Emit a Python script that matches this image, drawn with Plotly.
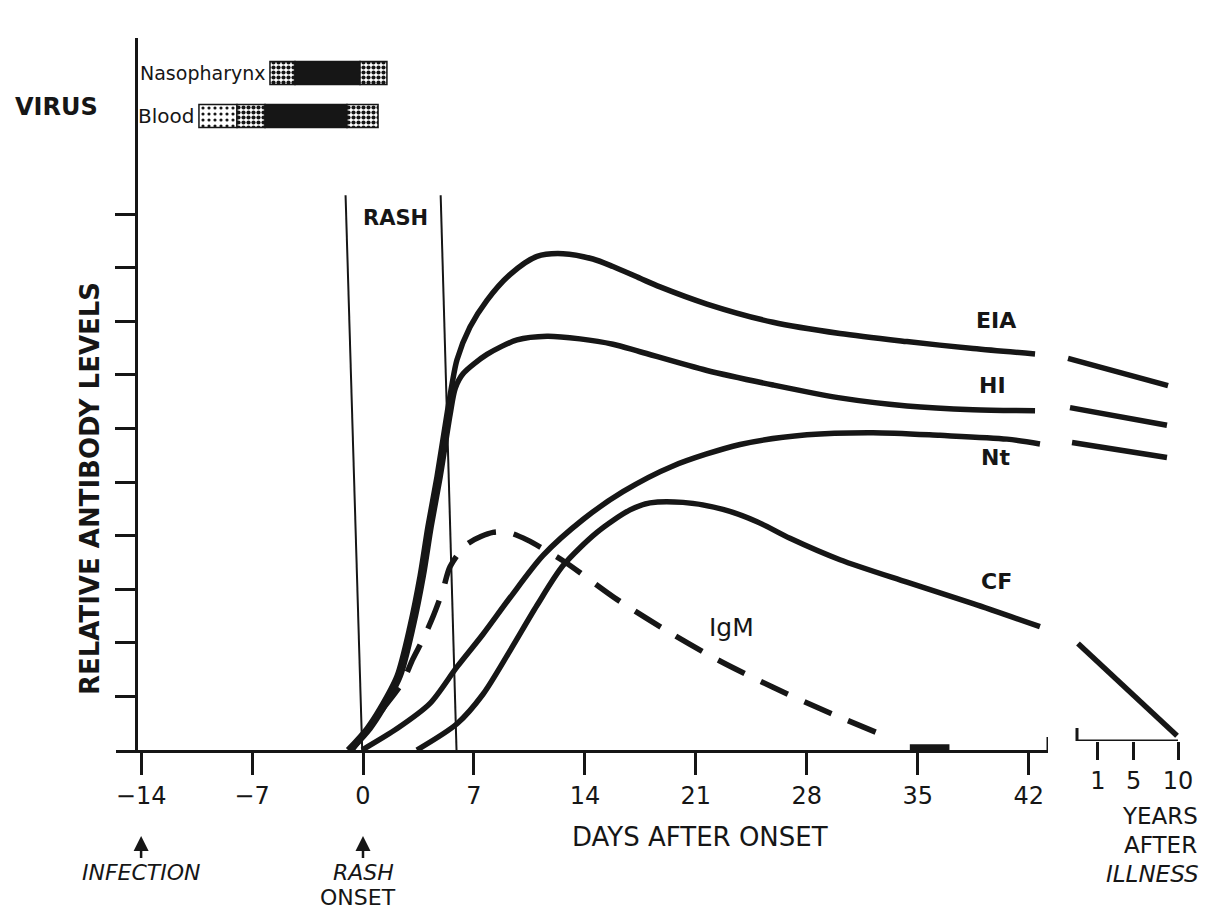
import plotly.graph_objects as go

# ---------------- data ----------------
# x: days after rash onset, y: relative antibody level
day_ticks = [-14, -7, 0, 7, 14, 21, 28, 35, 42]
day_tick_text = ["\u221214", "\u22127", "0", "7", "14", "21", "28", "35", "42"]
year_ticks = [1, 5, 10]
year_tick_text = ["1", "5", "10"]
level_ticks = [1, 2, 3, 4, 5, 6, 7, 8, 9, 10]

eia_days = [-0.95, 0.25, 1.07, 2.15, 2.97, 3.60, 4.10, 4.67, 5.30, 5.62, 5.93, 6.75, 7.82,
            9.27, 10.98, 12.62, 14.51, 15.77, 17.48, 18.74, 21.70, 25.87, 30.09, 34.32, 38.49, 42.40]
eia_levels = [0.0, 0.40, 0.77, 1.38, 2.31, 3.24, 4.17, 5.10, 6.27, 6.83, 7.28, 7.89, 8.39,
              8.87, 9.21, 9.26, 9.16, 9.02, 8.80, 8.64, 8.32, 7.98, 7.77, 7.62, 7.49, 7.39]

hi_days = [-0.75, 0.45, 1.27, 2.35, 3.17, 3.80, 4.30, 4.87, 5.50, 5.82, 6.31, 7.82, 9.72,
           11.61, 13.69, 15.77, 17.48, 21.70, 25.87, 30.09, 34.32, 38.49, 42.40]
hi_levels = [0.0, 0.40, 0.77, 1.38, 2.31, 3.24, 4.17, 5.10, 6.27, 6.75, 7.02, 7.38, 7.65,
             7.72, 7.67, 7.57, 7.43, 7.08, 6.81, 6.57, 6.42, 6.35, 6.33]

nt_days = [-0.06, 2.15, 4.23, 5.93, 7.57, 9.27, 11.36, 13.88, 16.40, 19.56, 23.79,
           28.01, 32.18, 36.40, 40.63, 42.71]
nt_levels = [0.0, 0.40, 0.87, 1.55, 2.16, 2.84, 3.63, 4.30, 4.82, 5.30, 5.70,
             5.88, 5.92, 5.87, 5.80, 5.71]

cf_days = [3.40, 5.93, 7.57, 9.27, 10.98, 12.62, 14.76, 16.85, 18.11, 20.19, 22.71, 24.86,
           26.94, 30.09, 34.32, 38.49, 42.71]
cf_levels = [0.0, 0.49, 1.04, 1.85, 2.70, 3.44, 4.06, 4.48, 4.61, 4.62, 4.49, 4.26,
             3.95, 3.55, 3.13, 2.73, 2.30]

igm_days = [-0.70, 1.26, 2.46, 3.15, 3.79, 4.42, 5.05, 5.49, 6.56, 8.20, 9.27, 10.35,
            12.62, 16.02, 19.37, 22.52, 25.87, 29.46, 33.12]
igm_levels = [0.0, 0.77, 1.25, 1.70, 2.07, 2.49, 2.99, 3.42, 3.84, 4.06, 4.05, 3.92,
              3.53, 2.81, 2.19, 1.66, 1.17, 0.69, 0.24]
igm_tail_days = [34.5, 37.0]
igm_tail_levels = [0.05, 0.05]

# long-term values, x in years after illness
eia_years, eia_year_levels = [-2.37, 8.88], [7.14, 6.63]
hi_years, hi_year_levels = [-2.15, 8.76], [6.22, 5.89]
nt_years, nt_year_levels = [-1.92, 8.76], [5.57, 5.29]
cf_years, cf_year_levels = [-1.25, 9.89], [1.82, 0.10]

# rash period boundaries (as drawn, slightly slanted in the scan)
rash_top_days = [-1.10, 4.90]
rash_bottom_days = [-0.05, 5.90]
rash_top_level = 10.35

# virus detection bars (days)
virus_sites = ["Blood", "Nasopharynx"]
naso_bounds = [-5.87, -4.29, -0.19, 1.51]
naso_fills = ["dense", "solid", "dense"]
blood_bounds = [-10.35, -7.95, -6.18, -1.01, 0.95]
blood_fills = ["light", "dense", "solid", "dense"]

# ---------------- geometry / style (screen pixels) ----------------
PAGE_MARGIN = 8                      # default body margin of the html page
W, H = 1212 - PAGE_MARGIN, 912 - PAGE_MARGIN
AXIS_Y, YEAR_AXIS_Y, Y_TOP, PX_PER_LEVEL = 750, 741, 38, 53.6
DAY0_PX, PX_PER_DAY = 363, 15.85
X_LEFT, X_RIGHT = 116, 1048
YAXIS_X = 136
YR_LEFT, YR_RIGHT, YEAR0_PX, PX_PER_YEAR = 1062, 1190, 1089.1, 8.89
YEAR_AXIS_START_PX = 1077
V_BOTTOM, V_TOP, BLOOD_PX, NASO_PX = 140, 45, 116, 73
INK = "#161616"
FONT = "DejaVu Sans, Verdana, Arial, sans-serif"


def px_x(px):
    return (px - PAGE_MARGIN) / W


def px_y(py):
    return 1 - (py - PAGE_MARGIN) / H


def day_of(px):
    return (px - DAY0_PX) / PX_PER_DAY


def year_of(px):
    return (px - YEAR0_PX) / PX_PER_YEAR


fig = go.Figure()

curve = dict(color=INK, width=5.5, shape="spline", smoothing=0.8)

# rash lines
for d0, d1 in zip(rash_top_days, rash_bottom_days):
    fig.add_trace(go.Scatter(x=[d0, d1], y=[rash_top_level, 0], mode="lines",
                             line=dict(color=INK, width=2), hoverinfo="skip"))

for xs, ys in [(eia_days, eia_levels), (hi_days, hi_levels), (nt_days, nt_levels), (cf_days, cf_levels)]:
    fig.add_trace(go.Scatter(x=xs, y=ys, mode="lines", line=curve))

fig.add_trace(go.Scatter(x=igm_days, y=igm_levels, mode="lines",
                         line=dict(color=INK, width=5.5, shape="spline", smoothing=0.8, dash="30px,18px")))
fig.add_trace(go.Scatter(x=igm_tail_days, y=igm_tail_levels, mode="lines",
                         line=dict(color=INK, width=6)))

for xs, ys in [(eia_years, eia_year_levels), (hi_years, hi_year_levels),
               (nt_years, nt_year_levels), (cf_years, cf_year_levels)]:
    fig.add_trace(go.Scatter(x=xs, y=ys, mode="lines", xaxis="x2", yaxis="y3",
                             line=dict(color=INK, width=5.5)))

# virus bars
fill_style = {
    "solid": dict(color=INK),
    "dense": dict(color="white", pattern=dict(shape=".", fgcolor=INK, bgcolor="white", size=5, solidity=0.55)),
    "light": dict(color="white", pattern=dict(shape=".", fgcolor=INK, bgcolor="white", size=6, solidity=0.22)),
}
for site, bounds, fills in [("Nasopharynx", naso_bounds, naso_fills), ("Blood", blood_bounds, blood_fills)]:
    for i, f in enumerate(fills):
        st = fill_style[f]
        m = dict(color=st["color"], line=dict(color=INK, width=1.5))
        if "pattern" in st:
            m["pattern"] = st["pattern"]
        fig.add_trace(go.Bar(y=[site], x=[bounds[i + 1] - bounds[i]], base=[bounds[i]],
                             orientation="h", width=0.54, marker=m, xaxis="x", yaxis="y2"))

annotations = []
for site, bounds, size in [("Nasopharynx", naso_bounds, 19), ("Blood", blood_bounds, 20)]:
    annotations.append(dict(x=bounds[0], y=virus_sites.index(site), xref="x", yref="y2",
                            text=site, showarrow=False, xanchor="right", yanchor="middle", xshift=-3,
                            font=dict(family=FONT, size=size, color=INK)))


def note(px, py, text, size, bold=False, **kw):
    t = f"<b>{text}</b>" if bold else text
    d = dict(x=px_x(px), y=px_y(py), xref="paper", yref="paper", text=t, showarrow=False,
             xanchor="center", yanchor="middle",
             font=dict(family=FONT, size=size, color=INK))
    d.update(kw)
    return d


annotations += [
    note(56, 107, "VIRUS", 24, bold=True),
    note(395, 218, "RASH", 21, bold=True),
    note(90, 489, "RELATIVE ANTIBODY LEVELS", 26, bold=True, textangle=-90),
    note(996, 320, "EIA", 22, bold=True),
    note(992, 385, "HI", 22, bold=True),
    note(995, 458, "Nt", 22, bold=True),
    note(996, 581, "CF", 22, bold=True),
    note(731, 627, "IgM", 25),
    note(700, 837, "DAYS AFTER ONSET", 26),
    note(1160, 816, "YEARS", 23),
    note(1160, 845, "AFTER", 23),
    note(1152, 874, "<i>ILLNESS</i>", 23),
    note(358, 897, "ONSET", 22),
]
for d, label in [(-14, "<i>INFECTION</i>"), (0, "<i>RASH</i>")]:
    annotations.append(dict(x=d, y=px_y(836), xref="x", yref="paper", text=label,
                            showarrow=True, ax=0, ay=36, arrowhead=2, arrowsize=1.2,
                            arrowwidth=2.5, arrowcolor=INK, xanchor="center", yanchor="middle",
                            font=dict(family=FONT, size=22, color=INK)))

shapes = [
    dict(type="line", xref="x2", yref="y3", x0=year_of(YEAR_AXIS_START_PX), x1=year_ticks[-1], y0=0, y1=0,
         line=dict(color=INK, width=3)),
    dict(type="line", xref="x", yref="y", x0=day_of(X_RIGHT), x1=day_of(X_RIGHT), ysizemode="pixel",
         yanchor=0, y0=-13, y1=13, line=dict(color=INK, width=3)),
    dict(type="line", xref="x2", yref="y3", x0=year_of(YEAR_AXIS_START_PX), x1=year_of(YEAR_AXIS_START_PX),
         ysizemode="pixel", yanchor=0, y0=-13, y1=13, line=dict(color=INK, width=3)),
]

tickfont = dict(family=FONT, size=24, color=INK)
fig.update_layout(
    width=W, height=H, autosize=False, template="none",
    margin=dict(l=0, r=0, t=0, b=0), paper_bgcolor="white", plot_bgcolor="rgba(0,0,0,0)",
    showlegend=False, barmode="overlay",
    xaxis=dict(domain=[px_x(X_LEFT), px_x(X_RIGHT)], range=[day_of(X_LEFT), day_of(X_RIGHT)],
               anchor="y", showline=True, linecolor=INK, linewidth=3, showgrid=False, zeroline=False,
               ticks="outside", ticklen=22, tickwidth=2.5, tickcolor=INK,
               tickvals=day_ticks, ticktext=day_tick_text, tickfont=tickfont, fixedrange=True),
    xaxis2=dict(domain=[px_x(YR_LEFT), px_x(YR_RIGHT)], range=[year_of(YR_LEFT), year_of(YR_RIGHT)],
                anchor="y3", showline=False, showgrid=False, zeroline=False,
                ticks="outside", ticklen=18, tickwidth=2.5, tickcolor=INK,
                tickvals=year_ticks, ticktext=year_tick_text, tickfont=tickfont, fixedrange=True),
    yaxis=dict(domain=[px_y(AXIS_Y), px_y(Y_TOP)], range=[0, (AXIS_Y - Y_TOP) / PX_PER_LEVEL],
               anchor="free", position=px_x(YAXIS_X), showline=True, linecolor=INK, linewidth=3,
               showgrid=False, zeroline=False, ticks="outside", ticklen=20, tickwidth=2.5,
               tickcolor=INK, tickvals=level_ticks, showticklabels=False, fixedrange=True),
    yaxis3=dict(domain=[px_y(YEAR_AXIS_Y), px_y(Y_TOP)], range=[0, (YEAR_AXIS_Y - Y_TOP) / PX_PER_LEVEL],
                anchor="x2", visible=False, fixedrange=True),
    yaxis2=dict(domain=[px_y(V_BOTTOM), px_y(V_TOP)], anchor="x", type="category",
                categoryorder="array", categoryarray=virus_sites,
                range=[-(V_BOTTOM - BLOOD_PX) / (BLOOD_PX - NASO_PX),
                       1 + (NASO_PX - V_TOP) / (BLOOD_PX - NASO_PX)],
                visible=False, fixedrange=True),
    annotations=annotations, shapes=shapes,
)

fig.write_html("out.html")
